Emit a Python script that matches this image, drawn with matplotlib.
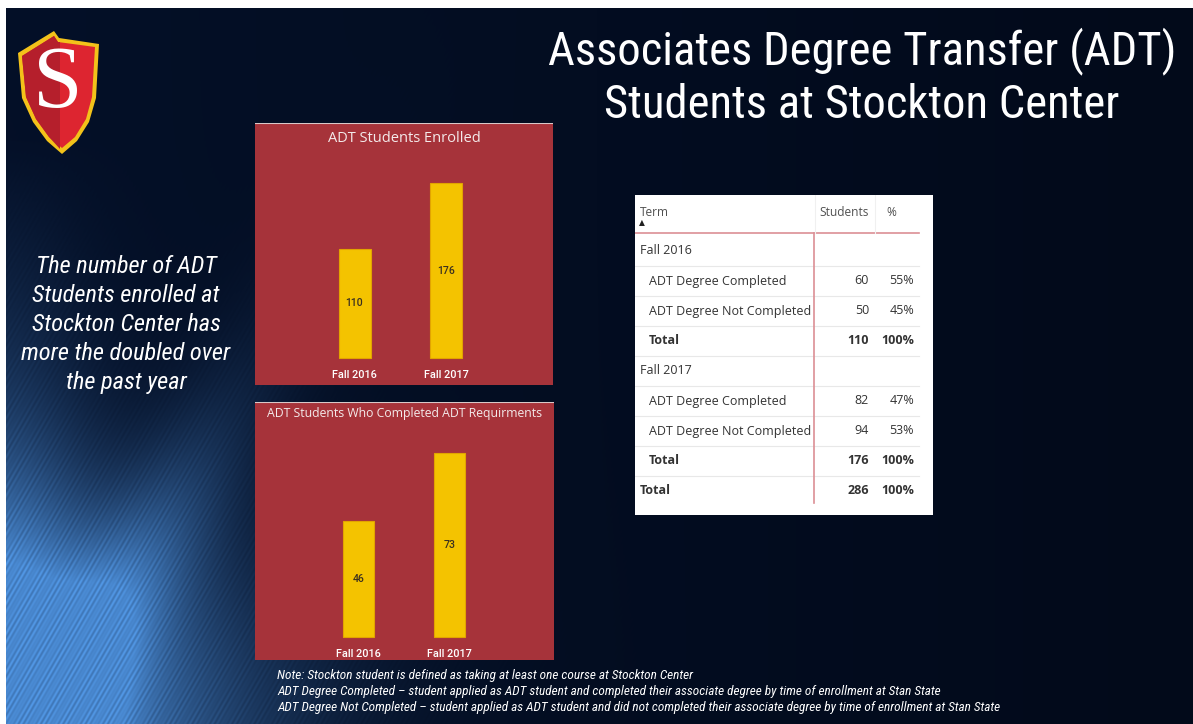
import numpy as np
import matplotlib
matplotlib.use("Agg")
import matplotlib.pyplot as plt
from matplotlib import font_manager
from matplotlib.patches import Polygon

W, H = 1193, 724

# ---- data ----
terms = ["Fall 2016", "Fall 2017"]
enrolled = [110, 176]
completed_req = [46, 73]

table_groups = ["Fall 2016", "Fall 2017"]
table_status = ["ADT Degree Completed", "ADT Degree Not Completed"]
table_students = [[60, 50], [82, 94]]

title_lines = ["Associates Degree Transfer (ADT)", "Students at Stockton Center"]
side_lines = ["The number of ADT", "Students enrolled at", "Stockton Center has",
              "more the doubled over", "the past year"]
note_lines = [
    "Note: Stockton student is defined as taking at least one course at Stockton Center",
    "ADT Degree Completed \u2013 student applied as ADT student and completed their associate degree by time of enrollment at Stan State",
    "ADT Degree Not Completed \u2013 student applied as ADT student and did not completed their associate degree by time of enrollment at Stan State",
]

# slide text is Arial Narrow; use whatever narrow face exists, else plain Liberation Sans
installed = {f.name for f in font_manager.fontManager.ttflist}
narrow = "Liberation Sans"
for cand in ["Liberation Sans Narrow", "Arial Narrow", "Roboto Condensed"]:
    if cand in installed:
        narrow = cand
        break
NARROW = [narrow, "DejaVu Sans"]
PBI = ["Open Sans", "DejaVu Sans"]
PANEL_RED = "#a6333a"
BAR_GOLD = "#f4c300"


def fx(x):
    return x / W


def fy(y):
    return 1 - y / H


def fit_size(fig, text, target_w, **kw):
    r = fig.canvas.get_renderer()
    t = fig.text(0, 0, text, fontsize=20, **kw)
    w = t.get_window_extent(r).width
    t.remove()
    return 20 * target_w / w


def make_background():
    yy, xx = np.mgrid[0:H, 0:W].astype(float)
    left = np.array([4, 16, 40]) / 255
    right = np.array([2, 10, 26]) / 255
    t = (xx / W)[..., None]
    img = left * (1 - t) + right * t
    v = H - yy
    g1 = np.exp(-((xx / 240) ** 2 + (v / 210) ** 2))
    g2 = np.exp(-(xx / 80) ** 2) * np.clip((yy - 140) / 584, 0, 1) ** 1.1
    a = np.deg2rad(60)
    along = xx * np.cos(a) + v * np.sin(a)
    across = xx * np.sin(a) - v * np.cos(a)
    g3 = np.exp(-((across - 40) / 55) ** 2) * np.exp(-(along / 340) ** 2)
    inten = np.clip(1.05 * g1 + 0.6 * g2 + 0.55 * g3, 0, 1)
    ph = xx * np.sin(a) + yy * np.cos(a)
    streak = 0.88 + 0.12 * np.sin(ph * 2 * np.pi / 4.3) * np.sin(ph * 2 * np.pi / 37)
    inten = inten * streak
    glow = np.array([82, 152, 230]) / 255
    img = img + inten[..., None] * (glow - img)
    img[:8, :, :] = 1.0
    img[:, :6, :] = 1.0
    return np.clip(img, 0, 1)


def bar_panel(fig, rect, values, title, title_size, centers, bar_w, base, scale, title_off):
    x0, y0, x1, y1 = rect
    ax = fig.add_axes([fx(x0), fy(y1), (x1 - x0) / W, (y1 - y0) / H])
    ax.set_facecolor(PANEL_RED)
    pos = np.arange(len(values))
    step = centers[1] - centers[0]
    ax.set_xlim(-(centers[0] - x0) / step, (x1 - centers[0]) / step)
    ax.set_ylim(-(y1 - base) / scale, (base - y0) / scale)
    ax.bar(pos, values, width=bar_w / step, color=BAR_GOLD, edgecolor="#e2a400", linewidth=0.8)
    for p, v in zip(pos, values):
        ax.text(p, v / 2, str(v), ha="center", va="center", fontsize=7.6,
                color="#3a3020", family=["Roboto", "DejaVu Sans"], fontweight="medium")
    for p, lab in zip(pos, terms):
        ax.text(p, -17 / scale, lab, ha="center", va="center", fontsize=7.8,
                color="white", family=["Roboto", "DejaVu Sans"], fontweight="medium")
    ax.text(0.5, 1 - title_off / (y1 - y0), title, transform=ax.transAxes,
            ha="center", va="center", fontsize=title_size, color="#f4eaea", family=PBI)
    ax.set_xticks([])
    ax.set_yticks([])
    for s in ax.spines.values():
        s.set_visible(False)
    ax.axhline(ax.get_ylim()[1], color="#d9c8c8", linewidth=1.5)
    return ax


def draw_table(fig):
    x0, y0, x1, y1 = 635, 195, 933, 515
    ax = fig.add_axes([fx(x0), fy(y1), (x1 - x0) / W, (y1 - y0) / H])
    ax.set_xlim(0, x1 - x0)
    ax.set_ylim(y1 - y0, 0)
    ax.set_facecolor("white")
    ax.set_xticks([])
    ax.set_yticks([])
    for s in ax.spines.values():
        s.set_visible(False)

    txt = "#333333"
    ax.text(5, 17, "Term", fontsize=8.6, color="#505050", va="center", family=PBI)
    ax.text(7, 28, "\u25b2", fontsize=5.5, color="#202020", ha="center", va="center", family=["DejaVu Sans"])
    ax.text(234, 17, "Students", fontsize=8.6, color="#505050", va="center", ha="right", family=PBI)
    ax.text(251, 17, "%", fontsize=8.6, color="#505050", va="center", family=PBI)

    rows = []
    for g, grp in enumerate(table_groups):
        rows.append((grp, 5, "", "", "normal"))
        tot = sum(table_students[g])
        for s, st in enumerate(table_status):
            n = table_students[g][s]
            rows.append((st, 14, str(n), f"{round(100 * n / tot)}%", "normal"))
        rows.append(("Total", 14, str(tot), "100%", "bold"))
    grand = sum(sum(r) for r in table_students)
    rows.append(("Total", 5, str(grand), "100%", "bold"))

    top, pitch = 56, 30
    for i, (lab, indent, n, p, wt) in enumerate(rows):
        yc = top + i * pitch
        ax.text(indent, yc, lab, fontsize=9, color=txt, va="center", family=PBI, fontweight=wt)
        ax.text(234, yc, n, fontsize=9, color=txt, va="center", ha="right", family=PBI, fontweight=wt)
        ax.text(279, yc, p, fontsize=9, color=txt, va="center", ha="right", family=PBI, fontweight=wt)
        if i < len(rows) - 1:
            ax.plot([0, 284], [yc + pitch / 2] * 2, color="#e8e8e8", linewidth=0.8)
    ax.plot([0, 284], [38, 38], color="#dc8f95", linewidth=1.2)
    ax.plot([179, 179], [38, top + (len(rows) - 1) * pitch + 12], color="#dc8f95", linewidth=1.2)
    ax.plot([180, 180], [0, 38], color="#f0f0f0", linewidth=0.8)
    ax.plot([240, 240], [0, 38], color="#f0f0f0", linewidth=0.8)


def draw_logo(ax):
    outer = [(18, 53), (54, 31), (59, 38), (99, 44), (96, 98), (89, 122), (77, 141),
             (62, 154), (47, 141), (33, 122), (22, 98)]
    ax.add_patch(Polygon(outer, closed=True, facecolor="#f3c21a", edgecolor="none", zorder=3))
    inner = [(22, 56), (54, 36), (58, 42), (95, 47), (92, 97), (86, 119), (75, 137),
             (62, 148), (49, 137), (36, 119), (26, 97)]
    ax.add_patch(Polygon(inner, closed=True, facecolor="#dd2530", edgecolor="none", zorder=4))
    left_half = [(22, 56), (54, 36), (58, 42), (60, 42), (60, 149), (49, 137), (36, 119), (26, 97)]
    ax.add_patch(Polygon(left_half, closed=True, facecolor="#b51f2c", edgecolor="none", zorder=5))
    ax.text(58, 86, "S", fontsize=64, color="white", ha="center", va="center",
            family=["Liberation Serif", "DejaVu Serif"], zorder=6)


fig = plt.figure(figsize=(W / 100, H / 100), dpi=100)
bg = fig.add_axes([0, 0, 1, 1])
bg.imshow(make_background(), extent=(0, W, H, 0), aspect="auto", interpolation="bilinear")
bg.set_xlim(0, W)
bg.set_ylim(H, 0)
bg.axis("off")
draw_logo(bg)

size = fit_size(fig, title_lines[0], 628, family=NARROW)
for i, line in enumerate(title_lines):
    fig.text(fx(862), fy(64 + 54 * i), line, ha="center", va="baseline",
             fontsize=size, color="white", family=NARROW)

size = fit_size(fig, side_lines[3], 209, family=NARROW, style="italic")
for i, line in enumerate(side_lines):
    fig.text(fx(126), fy(273 + 29 * i), line, ha="center", va="baseline",
             fontsize=size, color="white", style="italic", family=NARROW)

size = fit_size(fig, note_lines[2], 722, family=NARROW, style="italic")
for i, line in enumerate(note_lines):
    fig.text(fx(277), fy(679 + 16 * i), line, ha="left", va="baseline",
             fontsize=size, color="white", style="italic", family=NARROW)

bar_panel(fig, (255, 123, 553, 385), enrolled, "ADT Students Enrolled", 10.5,
          (354.5, 446), 32, 358, 0.9936, 15)
bar_panel(fig, (255, 402, 554, 660), completed_req, "ADT Students Who Completed ADT Requirments", 8.8,
          (358.5, 449.5), 31, 637, 2.525, 12)
draw_table(fig)

fig.savefig("out.png", dpi=100)
